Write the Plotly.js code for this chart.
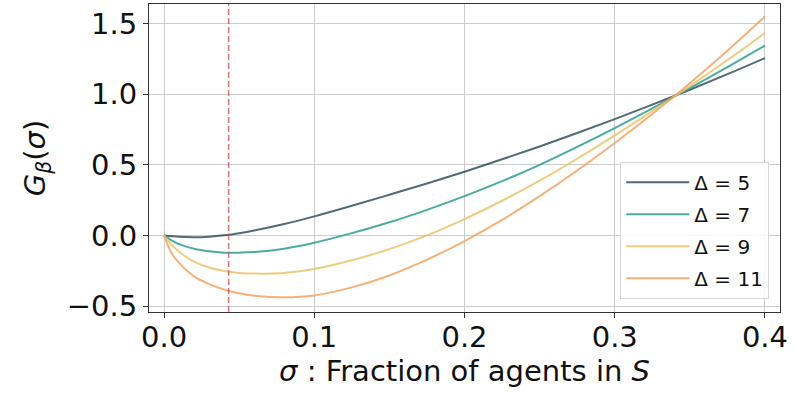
<!DOCTYPE html>
<html>
<head>
<meta charset="utf-8">
<script src="https://cdn.plot.ly/plotly-3.0.1.min.js"></script>
<style>html,body{margin:0;padding:0;background:#fff;}#chart{width:794px;height:396px;}</style>
</head>
<body>
<div id="chart"></div>
<script>
// sigma: fraction of agents in S
const sigma    = [0, 0.005, 0.01, 0.02, 0.03, 0.04, 0.05, 0.06, 0.08, 0.1, 0.125, 0.15, 0.175, 0.2, 0.225, 0.25, 0.275, 0.3, 0.325, 0.35, 0.375, 0.4];
const gDelta5  = [0, -0.0055, -0.010, -0.013, -0.009, 0.001, 0.016, 0.035, 0.081, 0.135, 0.210, 0.288, 0.368, 0.451, 0.539, 0.630, 0.725, 0.824, 0.926, 1.032, 1.142, 1.256];
const gDelta7  = [0, -0.0345, -0.062, -0.095, -0.113, -0.122, -0.122, -0.118, -0.094, -0.052, 0.016, 0.093, 0.181, 0.278, 0.384, 0.500, 0.627, 0.760, 0.899, 1.043, 1.192, 1.345];
const gDelta9  = [0, -0.0655, -0.1155, -0.1855, -0.2275, -0.2525, -0.2655, -0.2705, -0.2665, -0.2385, -0.176, -0.097, 0.000, 0.1155, 0.2455, 0.388, 0.543, 0.708, 0.880, 1.057, 1.242, 1.434];
const gDelta11 = [0, -0.125, -0.195, -0.290, -0.345, -0.383, -0.410, -0.427, -0.438, -0.425, -0.368, -0.284, -0.172, -0.040, 0.110, 0.278, 0.460, 0.655, 0.860, 1.078, 1.308, 1.550];
const seriesNames = ["Δ = 5", "Δ = 7", "Δ = 9", "Δ = 11"];
const threshold = [0.043];
const xTicks = [0.0, 0.1, 0.2, 0.3, 0.4];
const yTicks = [-0.5, 0.0, 0.5, 1.0, 1.5];

const colors = ["rgba(38,70,83,0.8)", "rgba(42,157,143,0.85)", "rgba(233,196,106,0.85)", "rgba(244,162,97,0.85)"];
const ys = [gDelta5, gDelta7, gDelta9, gDelta11];
const traces = ys.map((y, i) => ({
  x: sigma, y: y, type: "scatter", mode: "lines", name: seriesNames[i],
  legendgroup: "g" + i,
  line: {color: colors[i], width: 2, shape: "spline", smoothing: 1}
}));

const font = "DejaVu Sans, sans-serif";
const layout = {
  width: 794, height: 396,
  margin: {l: 149, r: 14, t: 4, b: 84},
  paper_bgcolor: "#fff", plot_bgcolor: "#fff",
  showlegend: true,
  legend: {
    x: 0.983, y: 0.043, xanchor: "right", yanchor: "bottom",
    bgcolor: "rgba(255,255,255,0.85)", bordercolor: "#d6d6d6", borderwidth: 1,
    font: {family: font, size: 20, color: "#111"}, tracegroupgap: 3, itemwidth: 63
  },
  xaxis: {
    range: [-0.01, 0.41], tickvals: xTicks, ticktext: xTicks.map(v => v.toFixed(1)),
    showgrid: true, gridcolor: "#cccccc", gridwidth: 1, zeroline: false,
    showline: true, linecolor: "#333", linewidth: 1, mirror: true,
    ticks: "outside", ticklen: 5, tickcolor: "#333", ticklabelstandoff: -6,
    tickfont: {family: font, size: 29, color: "#111"},
    title: {text: "<i>σ</i> : Fraction of agents in <i>S</i>", font: {family: font, size: 29, color: "#111"}, standoff: 0}
  },
  yaxis: {
    range: [-0.5425, 1.639], tickvals: yTicks, ticktext: yTicks.map(v => (v < 0 ? "\u2212" : "") + Math.abs(v).toFixed(1)),
    showgrid: true, gridcolor: "#cccccc", gridwidth: 1, zeroline: false,
    showline: true, linecolor: "#333", linewidth: 1, mirror: true,
    ticks: "outside", ticklen: 5, tickcolor: "#333",
    tickfont: {family: font, size: 29, color: "#111"},
    title: {text: "<i>G</i><sub><i>β</i></sub>(<i>σ</i>)", font: {family: font, size: 29, color: "#111"}, standoff: 12}
  },
  shapes: threshold.map(t => ({
    type: "line", xref: "x", yref: "paper", x0: t, x1: t, y0: 0, y1: 1,
    line: {color: "rgba(214,60,60,0.7)", width: 1.5, dash: "6px,3px"}, layer: "above"
  }))
};
Plotly.newPlot("chart", traces, layout, {staticPlot: true, displayModeBar: false});
</script>
</body>
</html>
